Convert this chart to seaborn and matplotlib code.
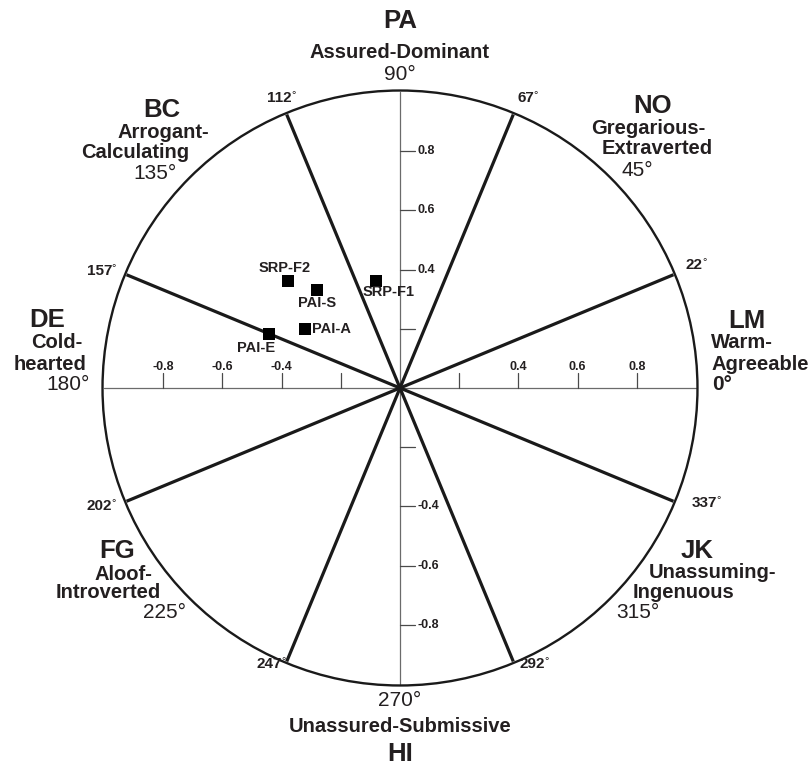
import numpy as np
import pandas as pd
import matplotlib
matplotlib.use('Agg')
import matplotlib.pyplot as plt
import seaborn as sns
from matplotlib.patches import Circle

sns.set_theme(style='white')
plt.rcParams['font.family'] = ['Liberation Sans', 'DejaVu Sans']

# ---------------- data ----------------
point_names = ['SRP-F2', 'PAI-S', 'SRP-F1', 'PAI-A', 'PAI-E']
point_x = [-0.378, -0.282, -0.081, -0.322, -0.442]
point_y = [0.360, 0.332, 0.360, 0.200, 0.182]

boundary_angles = [22.5, 67.5, 112.5, 157.5, 202.5, 247.5, 292.5, 337.5]
boundary_labels = ['22', '67', '112', '157', '202', '247', '292', '337']

tick_values = [-0.8, -0.6, -0.4, -0.2, 0.2, 0.4, 0.6, 0.8]
tick_labels = ['-0.8', '-0.6', '-0.4', '', '', '0.4', '0.6', '0.8']

octant_codes = ['LM', 'NO', 'PA', 'BC', 'DE', 'FG', 'HI', 'JK']
octant_names = [['Warm-', 'Agreeable'], ['Gregarious-', 'Extraverted'],
                ['Assured-Dominant'], ['Arrogant-', 'Calculating'],
                ['Cold-', 'hearted'], ['Aloof-', 'Introverted'],
                ['Unassured-Submissive'], ['Unassuming-', 'Ingenuous']]
octant_degrees = ['0°', '45°', '90°', '135°', '180°', '225°', '270°', '315°']

# ---------------- layout ----------------
W, H = 812, 770
CX, CY, UNIT = 400, 388, 296.0

def P(px, py):
    return ((px - CX) / UNIT, (CY - py) / UNIT)

# pixel positions: code, name lines, degree (layout only)
octant_layout = {
    'LM': [(747, 321), (742, 343), (760, 365), (722, 385)],
    'NO': [(653, 106), (648, 129), (657, 149), (637, 171)],
    'PA': [(400, 21), (400, 52), (400, 75)],
    'BC': [(162, 110), (163, 133), (135, 153), (155, 174)],
    'DE': [(47, 320), (57, 343), (50, 365), (68, 385)],
    'FG': [(117, 551), (123, 574), (108, 593), (165, 612)],
    'HI': [(400, 754), (400, 726), (400, 701)],
    'JK': [(697, 551), (713, 573), (683, 592), (638, 613)],
}
# right edge of boundary number labels (pixels)
boundary_label_pos = [(703, 265), (534, 98), (292, 98), (112, 271),
                      (112, 506), (282, 664), (545, 664), (717, 503)]

TXT = '#231f20'

fig = plt.figure(figsize=(W / 100, H / 100), dpi=100)
ax = fig.add_axes([0, 0, 1, 1])
ax.set_xlim(-CX / UNIT, (W - CX) / UNIT)
ax.set_ylim(-(H - CY) / UNIT, CY / UNIT)
ax.set_aspect('equal')
ax.axis('off')

# circle
ax.add_patch(Circle((0, 0), 1.005, fill=False, lw=1.7, edgecolor='#1a1a1a', zorder=3))

# axes
ax.plot([-1.0, 1.0], [0, 0], color='#6b6b6b', lw=0.9, zorder=1)
ax.plot([0, 0], [-1.0, 1.0], color='#6b6b6b', lw=0.9, zorder=1)
tl = 15 / UNIT
for v, lab in zip(tick_values, tick_labels):
    ax.plot([v, v], [0, tl], color='#4a4a4a', lw=0.9, zorder=1)
    ax.plot([0, tl], [v, v], color='#4a4a4a', lw=0.9, zorder=1)
    if lab:
        ax.text(v, 21 / UNIT, lab, ha='center', va='center', fontsize=9,
                fontweight='bold', color=TXT)
        ax.text(18 / UNIT, v, lab, ha='left', va='center', fontsize=9,
                fontweight='bold', color=TXT)

# octant boundary lines
for a in boundary_angles:
    r = np.deg2rad(a)
    ax.plot([0, np.cos(r)], [0, np.sin(r)], color='#1a1a1a', lw=2.3,
            solid_capstyle='butt', zorder=2)

# boundary labels
for lab, (rx, ry) in zip(boundary_labels, boundary_label_pos):
    x, y = P(rx, ry)
    ax.text(x, y, lab, ha='right', va='center', fontsize=11, fontweight='bold',
            color=TXT)
    x2, y2 = P(rx - 1, ry - 3)
    ax.text(x2, y2, '°', ha='left', va='center', fontsize=8, color=TXT)

# octant labels
for code, names, deg in zip(octant_codes, octant_names, octant_degrees):
    pos = octant_layout[code]
    x, y = P(*pos[0])
    ax.text(x, y, code, ha='center', va='center', fontsize=18.5,
            fontweight='bold', color=TXT)
    for i, nm in enumerate(names):
        x, y = P(*pos[1 + i])
        ax.text(x, y, nm, ha='center', va='center', fontsize=14.5,
                fontweight='bold', color=TXT)
    x, y = P(*pos[-1])
    ax.text(x, y, deg, ha='center', va='center', fontsize=15,
            fontweight='bold' if deg == '0°' else 'normal', color=TXT)

# points
df = pd.DataFrame({'name': point_names, 'x': point_x, 'y': point_y})
sns.scatterplot(data=df, x='x', y='y', marker='s', s=75, color='black',
                linewidth=0, ax=ax, zorder=6, legend=False)
ax.set_xlim(-CX / UNIT, (W - CX) / UNIT)
ax.set_ylim(-(H - CY) / UNIT, CY / UNIT)
ax.axis('off')

label_offsets = {'SRP-F2': (-3, 13, 'center'), 'PAI-S': (1, -13, 'center'),
                 'SRP-F1': (13, -11, 'center'), 'PAI-A': (7, 0, 'left'),
                 'PAI-E': (-13, -14, 'center')}
for _, row in df.iterrows():
    dx, dy, ha = label_offsets[row['name']]
    ax.annotate(row['name'], (row['x'], row['y']), xytext=(dx, dy),
                textcoords='offset pixels', ha=ha, va='center', fontsize=10.5,
                fontweight='bold', color=TXT, zorder=7)

fig.savefig('out.png', dpi=100, facecolor='white')
